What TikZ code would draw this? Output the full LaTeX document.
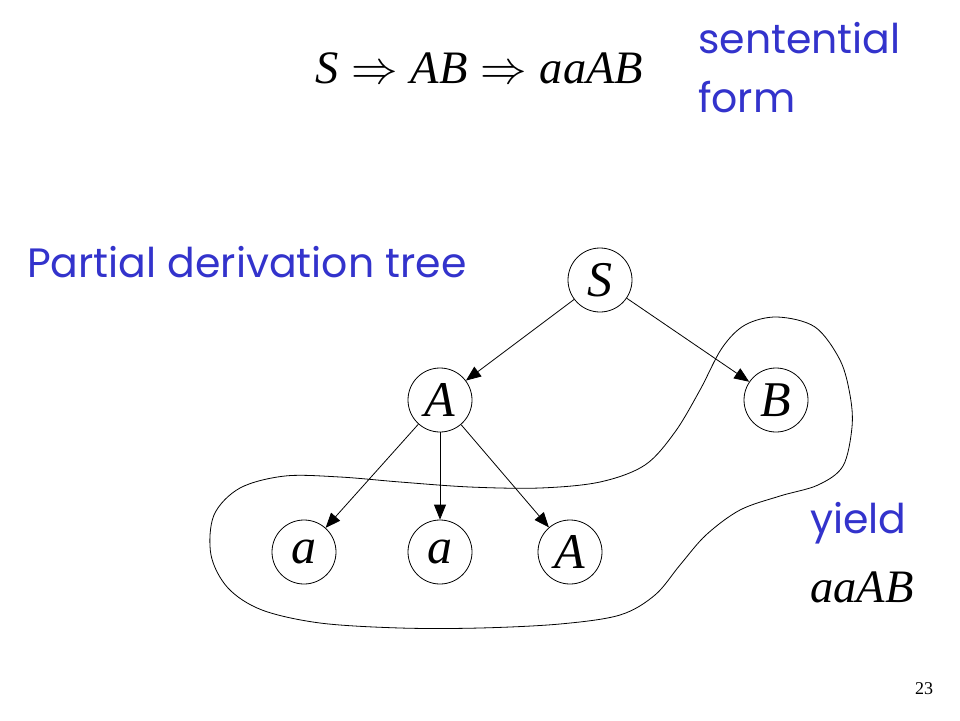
\RequirePackage{fix-cm}
\documentclass[tikz,border=0pt]{standalone}
\usepackage{fontspec}
\setmainfont{Liberation Serif}
\newfontfamily\comic{Poppins}
\usetikzlibrary{arrows.meta}
\definecolor{bluetxt}{RGB}{51,51,204}
\begin{document}
\begin{tikzpicture}[x=1pt,y=-1pt,
  tnode/.style={circle,draw,line width=0.8pt,minimum size=64pt,inner sep=0pt,font=\fontsize{50}{50}\selectfont\itshape},
  edge/.style={-{Triangle[length=15pt,width=12pt]},line width=0.8pt},
  bluelbl/.style={text=bluetxt,font=\comic\fontsize{41}{41}\selectfont,anchor=base west,inner sep=0pt},
  mathlbl/.style={font=\fontsize{46.5}{46.5}\selectfont,anchor=base west,inner sep=0pt}]
\useasboundingbox (0,0) rectangle (960,720);
\fill[white] (0,0) rectangle (960,720);
% tree nodes
\node[tnode] (S) at (600,280) {S};
\node[tnode] (A) at (440,400) {A};
\node[tnode] (B) at (776,400) {B};
\node[tnode] (a1) at (304,552) {a};
\node[tnode] (a2) at (440,552) {a};
\node[tnode] (A2) at (570,552) {A};
% edges
\draw[edge] (S) -- (A);
\draw[edge] (S) -- (B);
\draw[edge] (A) -- (a1);
\draw[edge] (A) -- (a2);
\draw[edge] (A) -- (A2);
% yield loop
\draw[line width=0.8pt] plot[smooth cycle, tension=0.55] coordinates {
 (852,427) (843,466) (818,485) (780,496) (740,510) (706,535) (680,565)
 (655,595) (620,615) (560,624) (480,628) (400,628) (320,623) (262,610)
 (228,588) (211,555) (214,515) (240,488) (285,476) (340,477) (400,482)
 (470,487) (540,488) (600,482) (645,465) (675,432) (700,390) (722,348)
 (745,325) (777,317) (815,327) (840,360) (850,395)};
% texts
\node[mathlbl] (form) at (315,83) {$\textit{S}\Rightarrow\textit{AB}\Rightarrow\textit{aaAB}$};
\node[bluelbl] (sent1) at (698,53) {sentential};
\node[bluelbl] (sent2) at (698,112) {form};
\node[bluelbl] (pdt) at (27,277) {Partial derivation tree};
\node[bluelbl] (yl) at (810,533) {yield};
\node[mathlbl] (yw) at (810,602) {\textit{aaAB}};
\node[font=\fontsize{18}{18}\selectfont,inner sep=0pt] (pg) at (924,689) {23};
\end{tikzpicture}
\end{document}
